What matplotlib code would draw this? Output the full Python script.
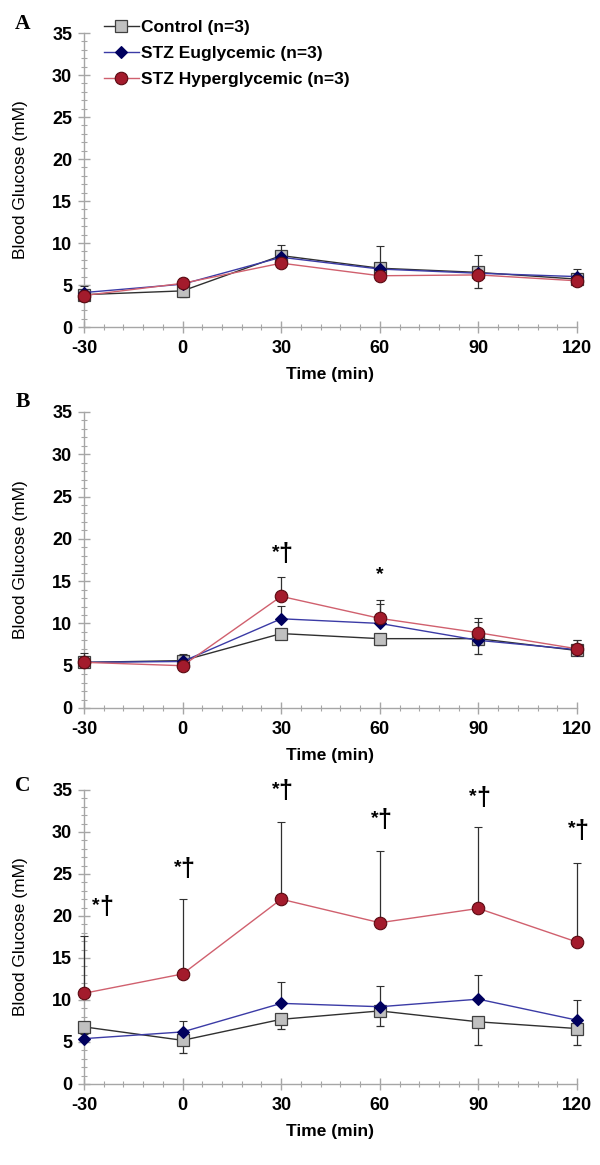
import numpy as np
import matplotlib
matplotlib.use('Agg')
import matplotlib.pyplot as plt
from matplotlib.ticker import MultipleLocator
from matplotlib.transforms import offset_copy

plt.rcParams['font.family'] = ['Liberation Sans', 'DejaVu Sans']
plt.rcParams['axes.unicode_minus'] = False

# time points (min)
time = [-30, 0, 30, 60, 90, 120]
labels = ['Control (n=3)', 'STZ Euglycemic (n=3)', 'STZ Hyperglycemic (n=3)']

# panel A
a_ctrl = [3.85, 4.3, 8.5, 7.0, 6.5, 5.7]
a_ctrl_err = [0.3, 0.7, 0.4, 0.5, 1.8, 0.4]
a_eugly = [4.1, 5.1, 8.3, 6.9, 6.4, 6.0]
a_eugly_err = [0.8, 0.7, 1.5, 2.7, 2.2, 0.9]
a_hyper = [3.75, 5.2, 7.6, 6.1, 6.2, 5.5]
a_hyper_err = [0.4, 0.5, 0.4, 0.4, 0.5, 0.4]

# panel B
b_ctrl = [5.4, 5.6, 8.8, 8.2, 8.2, 6.8]
b_ctrl_err = [0.4, 0.6, 0.4, 0.8, 1.8, 0.4]
b_eugly = [5.4, 5.5, 10.55, 10.0, 8.0, 6.9]
b_eugly_err = [1.1, 0.9, 1.55, 2.3, 2.2, 1.1]
b_hyper = [5.4, 5.0, 13.2, 10.6, 8.9, 7.0]
b_hyper_err = [0.7, 0.6, 2.3, 2.2, 1.7, 1.0]

# panel C
c_ctrl = [6.8, 5.2, 7.7, 8.7, 7.4, 6.6]
c_ctrl_err = [0.6, 1.45, 1.1, 1.8, 2.7, 1.9]
c_eugly = [5.4, 6.2, 9.6, 9.2, 10.1, 7.6]
c_eugly_err = [0.5, 1.3, 2.5, 2.5, 2.9, 2.4]
c_hyper = [10.8, 13.1, 22.0, 19.2, 20.9, 16.9]
c_hyper_err = [6.8, 8.9, 9.2, 8.5, 9.7, 9.4]

# significance marks: (time, y of mark top, dagger shown)
b_marks = [(30, 19.6, True), (60, 16.8, False)]
c_marks = [(-24.7, 22.5, True), (0, 27.0, True), (30, 36.3, True),
           (60, 32.8, True), (90, 35.5, True), (120, 31.6, True)]

W, H = 600, 1165
fig = plt.figure(figsize=(W / 100, H / 100), dpi=100)

AX_L, AX_R = 84, 577
panels = [
    ('A', 33, 327, (a_ctrl, a_ctrl_err), (a_eugly, a_eugly_err), (a_hyper, a_hyper_err), [], 24),
    ('B', 412, 708, (b_ctrl, b_ctrl_err), (b_eugly, b_eugly_err), (b_hyper, b_hyper_err), b_marks, 402),
    ('C', 790, 1084, (c_ctrl, c_ctrl_err), (c_eugly, c_eugly_err), (c_hyper, c_hyper_err), c_marks, 786),
]

grey = '#a6a6a6'
err_col = '#303030'
serif = ['Liberation Serif', 'DejaVu Serif']

for letter, top, bot, ctrl, eug, hyp, marks, ly in panels:
    ax = fig.add_axes([AX_L / W, 1 - bot / H, (AX_R - AX_L) / W, (bot - top) / H])
    zeros = np.zeros(len(time))

    c1 = ax.errorbar(time, ctrl[0], yerr=[ctrl[1], zeros], color='#303030', lw=1.0,
                     marker='s', ms=8, mfc='#c0c0c0', mec='#404040', mew=0.9,
                     ecolor=err_col, elinewidth=0.9, capsize=3, capthick=0.9,
                     clip_on=False, zorder=3)
    c2 = ax.errorbar(time, eug[0], yerr=[zeros, eug[1]], color='#3b3ba6', lw=1.0,
                     marker='D', ms=6, mfc='#00005e', mec='#00005e', mew=0.8,
                     ecolor=err_col, elinewidth=0.9, capsize=3, capthick=0.9,
                     clip_on=False, zorder=4)
    c3 = ax.errorbar(time, hyp[0], yerr=[zeros, hyp[1]], color='#d0606e', lw=1.0,
                     marker='o', ms=9, mfc='#a31b2c', mec='#5a0a12', mew=0.8,
                     ecolor=err_col, elinewidth=0.9, capsize=3, capthick=0.9,
                     clip_on=False, zorder=5)

    ax.set_xlim(-30, 120)
    ax.set_ylim(0, 35)
    ax.xaxis.set_major_locator(MultipleLocator(30))
    ax.xaxis.set_minor_locator(MultipleLocator(6))
    ax.yaxis.set_major_locator(MultipleLocator(5))
    ax.yaxis.set_minor_locator(MultipleLocator(1))
    for s in ['top', 'right']:
        ax.spines[s].set_visible(False)
    for s in ['left', 'bottom']:
        ax.spines[s].set_color(grey)
        ax.spines[s].set_linewidth(1.0)
    ax.tick_params(which='major', direction='inout', length=9, width=1.0, color=grey,
                   labelsize=13, pad=4)
    ax.tick_params(which='minor', direction='inout', length=5, width=0.8, color=grey)
    ax.tick_params(axis='x', which='major', pad=5)
    for t in ax.get_xticklabels() + ax.get_yticklabels():
        t.set_fontweight('bold')

    ax.set_ylabel('Blood Glucose (mM)', fontsize=12.5)
    ax.yaxis.set_label_coords((28 - AX_L) / (AX_R - AX_L), 0.5)
    ax.set_xlabel('Time (min)', fontsize=12.5, fontweight='bold')
    ax.xaxis.set_label_coords(0.5, -40 / (bot - top))

    # small raised star followed by a tall dagger
    for x, y, dagger in marks:
        if dagger:
            ax.text(x, y, '†', ha='left', va='top', fontsize=18, fontweight='bold',
                    zorder=6, clip_on=False,
                    transform=offset_copy(ax.transData, fig=fig, x=-2.5, y=0, units='dots'))
            ax.text(x, y, '*', ha='right', va='top', fontsize=14, fontweight='bold',
                    zorder=6, clip_on=False,
                    transform=offset_copy(ax.transData, fig=fig, x=-1.5, y=-2, units='dots'))
        else:
            ax.text(x, y, '*', ha='center', va='top', fontsize=14, fontweight='bold',
                    zorder=6, clip_on=False)

    fig.text(23 / W, 1 - ly / H, letter, ha='center', va='center', fontsize=15.5,
             fontweight='bold', family=serif)

    if letter == 'A':
        handles = [c1.lines[0], c2.lines[0], c3.lines[0]]
        ax.legend(handles, labels, loc='upper left', bbox_to_anchor=(104 / W, 1 - 20 / H),
                  bbox_transform=fig.transFigure, frameon=False, numpoints=1,
                  prop={'size': 12.5, 'weight': 'bold'}, handlelength=2.0,
                  handletextpad=0.15, labelspacing=0.62, borderaxespad=0, borderpad=0)

fig.savefig('out.png', dpi=100)
